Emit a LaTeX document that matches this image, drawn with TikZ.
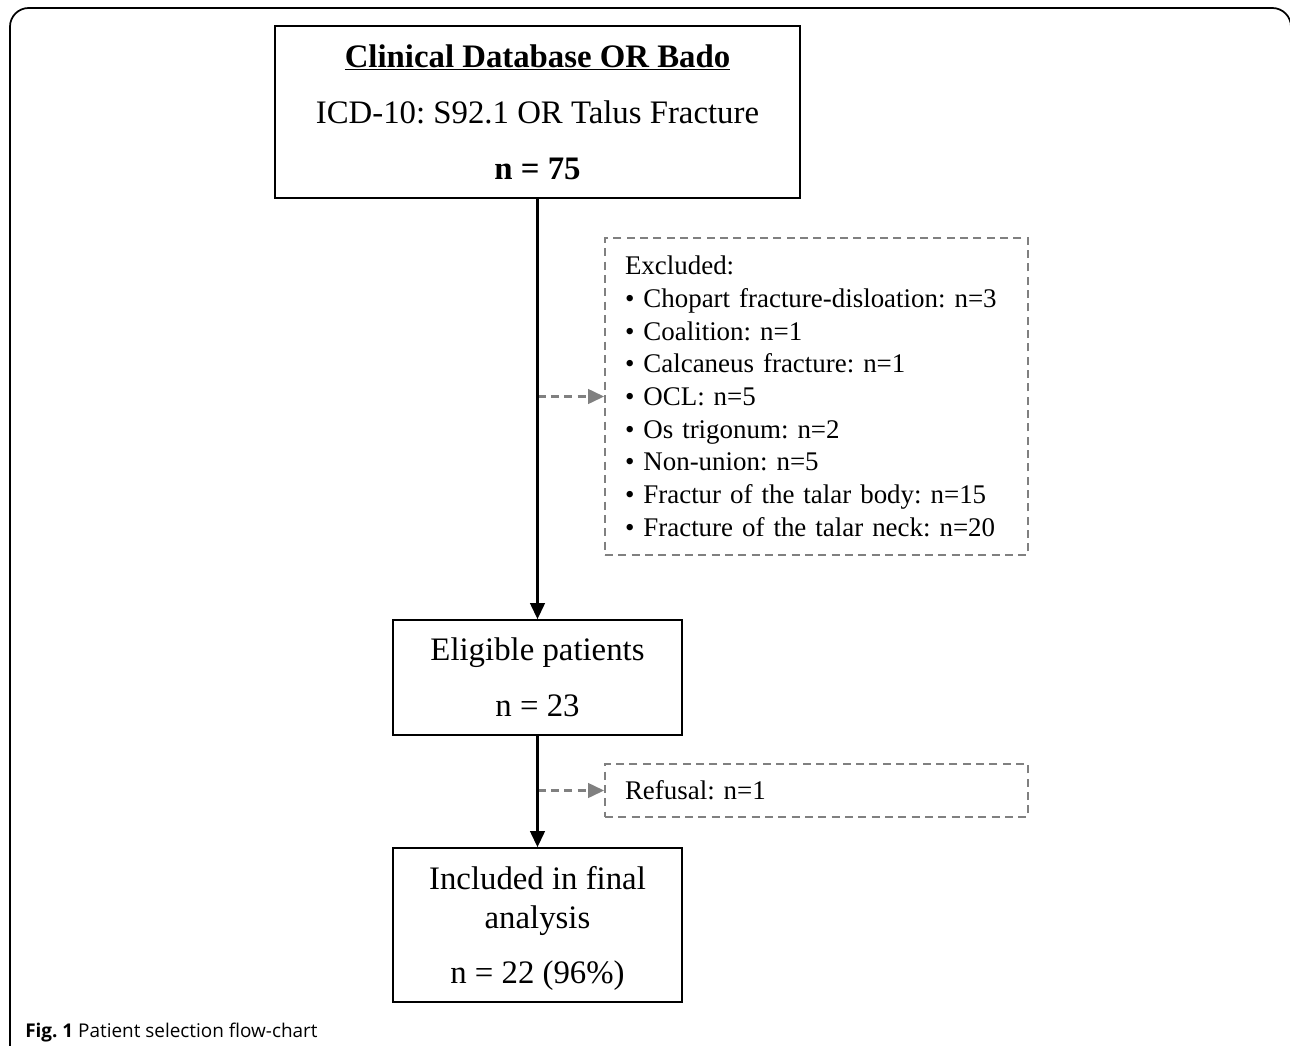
\documentclass[tikz,border=0pt]{standalone}
\usepackage{fontspec}
\setmainfont{Liberation Serif}
\newfontfamily\capfont{Open Sans}
\usetikzlibrary{arrows.meta}
\frenchspacing

\begin{document}
\begin{tikzpicture}[x=0.75pt, y=-0.75pt,
	box/.style={draw, line width=1.3pt, align=center, inner sep=0pt, font=\fontsize{24.6}{42}\selectfont},
	dbox/.style={draw=black!50, dash pattern=on 6pt off 4pt, line width=1.4pt, inner xsep=15pt, inner ysep=0pt,
		text width=287.25pt, minimum width=317.25pt, align=left, font=\fontsize{20.2}{24.5}\selectfont},
	flow/.style={-{Triangle[length=12pt,width=11pt]}, line width=1.6pt},
	side/.style={-{Triangle[length=12pt,width=11pt]}, draw=black!50, dash pattern=on 6pt off 4pt, line width=1.8pt}]
	\useasboundingbox (0,0) rectangle (1290,1046);
	\draw[line width=1.3pt, rounded corners=14pt] (10,1080) -- (10,8) -- (1291,8) -- (1291,1080);
	\node[box, minimum width=393.75pt, minimum height=129pt] (db) at (537.5,112)
		{\textbf{\underline{Clinical Database OR Bado}}\\ICD-10: S92.1 OR Talus Fracture\\\textbf{n = 75}};
	\node[dbox, minimum height=237.75pt] (excl) at (816.5,396.5)
		{Excluded:\\
		• Chopart fracture-disloation: n=3\\
		• Coalition: n=1\\
		• Calcaneus fracture: n=1\\
		• OCL: n=5\\
		• Os trigonum: n=2\\
		• Non-union: n=5\\
		• Fractur of the talar body: n=15\\
		• Fracture of the talar neck: n=20};
	\node[box, minimum width=216.75pt, minimum height=86.25pt] (elig) at (537.5,677.5)
		{Eligible patients\\n = 23};
	\node[dbox, minimum height=39.75pt] (refus) at (816.5,790.5) {Refusal: n=1};
	\node[box, minimum width=216.75pt, minimum height=115.5pt, text depth=0pt] (incl) at (537.5,925)
		{Included in final\\[-12.75pt]analysis\\[-1pt]n = 22 (96\%)};
	\node[anchor=base west, inner sep=0pt, font=\capfont\fontsize{14.2}{17}\selectfont] (cap) at (25,1037)
		{\textbf{Fig. 1} Patient selection flow-chart};
	\draw[side] (db.south |- excl.west) -- (excl.west);
	\draw[side] (elig.south |- refus.west) -- (refus.west);
	\draw[flow] (db.south) -- (elig.north);
	\draw[flow] (elig.south) -- (incl.north);
\end{tikzpicture}
\end{document}
